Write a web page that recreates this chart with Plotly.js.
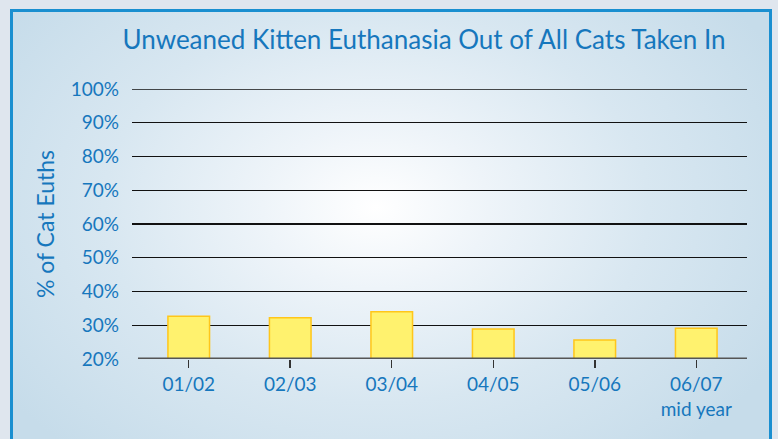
<!DOCTYPE html>
<html>
<head>
<meta charset="utf-8">
<script src="https://cdn.plot.ly/plotly-3.0.1.min.js"></script>
<style>
  html, body { margin:0; padding:0; width:778px; height:439px; overflow:hidden; background:#dfe6ee; }
  #frame { position:absolute; left:10px; top:9px; width:762px; height:440px;
    border:3px solid #1a8fd0; box-sizing:border-box;
    background: radial-gradient(ellipse 60% 75% at 48% 45%, #ffffff 0%, #eef4f9 25%, #d8e7f1 60%, #c6dcea 100%); }
  #chart { position:absolute; left:0; top:0; width:778px; height:439px; }
</style>
</head>
<body>
<div id="frame"></div>
<div id="chart"></div>
<script>
const categories = ["01/02", "02/03", "03/04", "04/05", "05/06", "06/07<br>mid year"];
const values = [32.7, 32.2, 34.0, 28.9, 25.6, 29.1];
const yTicks = [20, 30, 40, 50, 60, 70, 80, 90, 100];
const yTickLabels = yTicks.map(v => v + "%");

const blue = "#1677bd";
const font = "Lato, 'Open Sans', sans-serif";

const idx = categories.map((c, i) => i);

const trace = {
  type: "bar",
  x: idx,
  y: values,
  width: 0.41,
  marker: { color: "#fff26e", line: { color: "#ffc61a", width: 1.5 } },
  hoverinfo: "skip"
};

const layout = {
  width: 778, height: 439,
  paper_bgcolor: "rgba(0,0,0,0)",
  plot_bgcolor: "rgba(0,0,0,0)",
  margin: { l: 132, r: 31, t: 89, b: 80 },
  showlegend: false,
  title: { text: "Unweaned Kitten Euthanasia Out of All Cats Taken In",
    font: { family: font, size: 26, color: blue }, x: 0.545, xanchor: "center", y: 0.908, yanchor: "middle" },
  xaxis: {
    range: [-0.559, 5.5],
    tickmode: "array", tickvals: idx, ticktext: categories,
    tickson: "boundaries", ticks: "outside", ticklen: 8, tickwidth: 1.5, tickcolor: "#333",
    showgrid: false, showline: false, zeroline: false,
    tickfont: { family: font, size: 19, color: blue },
    fixedrange: true
  },
  yaxis: {
    range: [20, 100],
    tickmode: "array", tickvals: yTicks, ticktext: yTickLabels,
    showgrid: true, gridcolor: "#111", gridwidth: 1.3,
    zeroline: false, showline: false, ticks: "",
    ticklabelstandoff: 12,
    tickfont: { family: font, size: 19, color: blue },
    title: { text: "% of Cat Euths", font: { family: font, size: 23, color: blue }, standoff: 9 },
    fixedrange: true
  },
  shapes: [
    { type: "line", xref: "paper", yref: "y", x0: 0, x1: 1, y0: 100, y1: 100,
      line: { color: "#111", width: 1.3 } },
    { type: "line", xref: "x", yref: "y", x0: -0.5, x1: 5.5, y0: 20, y1: 20,
      line: { color: "#555", width: 3 } }
  ]
};

Plotly.newPlot("chart", [trace], layout, { displayModeBar: false, staticPlot: true });
</script>
</body>
</html>
